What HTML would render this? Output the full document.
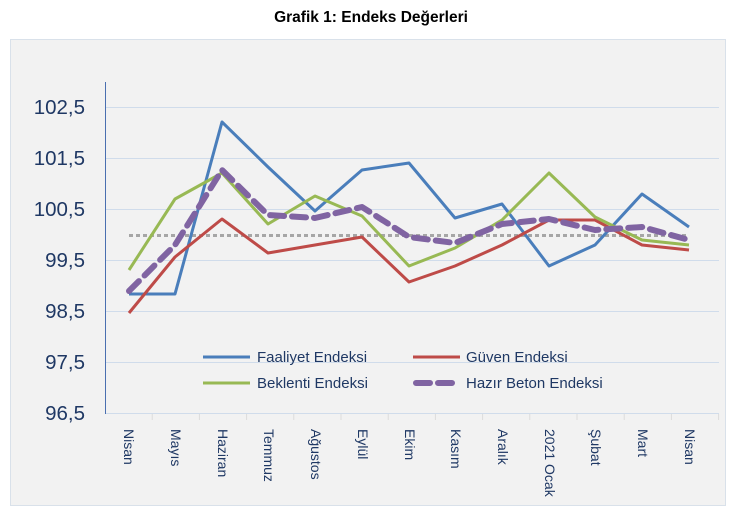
<!DOCTYPE html><html><head><meta charset="utf-8"><style>body{margin:0;background:#fff;}svg{display:block}</style></head><body>
<svg width="742" height="514" xmlns="http://www.w3.org/2000/svg" font-family="Liberation Sans, DejaVu Sans, sans-serif">
<text x="371" y="22" text-anchor="middle" font-weight="bold" font-size="15.5">Grafik 1: Endeks Değerleri</text>
<rect x="10.5" y="39.5" width="715" height="466" fill="#f2f2f2" stroke="#d9e1ea"/>
<g stroke="#d0dceb" stroke-width="1">
<line x1="105" x2="719" y1="107.5" y2="107.5"/><line x1="105" x2="719" y1="158.5" y2="158.5"/><line x1="105" x2="719" y1="209.5" y2="209.5"/><line x1="105" x2="719" y1="260.5" y2="260.5"/><line x1="105" x2="719" y1="311.5" y2="311.5"/><line x1="105" x2="719" y1="362.5" y2="362.5"/><line x1="105" x2="719" y1="413.5" y2="413.5"/>
</g>
<line x1="105.5" x2="105.5" y1="82" y2="414" stroke="#4a6fb0"/>
<g stroke="#dcdcdc"><line x1="152.2" x2="152.2" y1="414" y2="420"/><line x1="199.4" x2="199.4" y1="414" y2="420"/><line x1="246.6" x2="246.6" y1="414" y2="420"/><line x1="293.8" x2="293.8" y1="414" y2="420"/><line x1="341" x2="341" y1="414" y2="420"/><line x1="388.2" x2="388.2" y1="414" y2="420"/><line x1="435.4" x2="435.4" y1="414" y2="420"/><line x1="482.6" x2="482.6" y1="414" y2="420"/><line x1="529.8" x2="529.8" y1="414" y2="420"/><line x1="577" x2="577" y1="414" y2="420"/><line x1="624.2" x2="624.2" y1="414" y2="420"/><line x1="671.4" x2="671.4" y1="414" y2="420"/><line x1="718.6" x2="718.6" y1="414" y2="420"/></g>
<g font-size="20.5" fill="#1f3864" text-anchor="end">
<text x="85" y="114">102,5</text><text x="85" y="165">101,5</text><text x="85" y="216">100,5</text><text x="85" y="267">99,5</text><text x="85" y="318">98,5</text><text x="85" y="369">97,5</text><text x="85" y="420">96,5</text>
</g>
<g font-size="14" fill="#1f3864">
<text transform="translate(124,429) rotate(90)">Nisan</text>
<text transform="translate(171,429) rotate(90)">Mayıs</text>
<text transform="translate(218,429) rotate(90)">Haziran</text>
<text transform="translate(264,429) rotate(90)">Temmuz</text>
<text transform="translate(311,429) rotate(90)">Ağustos</text>
<text transform="translate(358,429) rotate(90)">Eylül</text>
<text transform="translate(405,429) rotate(90)">Ekim</text>
<text transform="translate(451,429) rotate(90)">Kasım</text>
<text transform="translate(498,429) rotate(90)">Aralık</text>
<text transform="translate(545,429) rotate(90)">2021 Ocak</text>
<text transform="translate(591,429) rotate(90)">Şubat</text>
<text transform="translate(638,429) rotate(90)">Mart</text>
<text transform="translate(685,429) rotate(90)">Nisan</text>
</g>
<line x1="129" x2="689" y1="235.5" y2="235.5" stroke="#a6a6a6" stroke-width="3" stroke-dasharray="4,3"/>
<g fill="none" stroke-width="3" stroke-linejoin="round">
<polyline stroke="#4a7ebb" points="129,294 175,294 222,122 268,167 315,211 362,170 409,163 455,218 502,204 549,266 595,245 642,194 689,227"/>
<polyline stroke="#be4b48" points="129,313 175,257 222,219 268,253 315,245 362,237 409,282 455,266 502,245 549,220 595,220 642,245 689,250"/>
<polyline stroke="#98b954" points="129,270 175,199 222,173 268,224 315,196 362,216 409,266 455,248 502,220 549,173 595,217 642,240 689,245"/>
<polyline stroke="#8064a2" stroke-width="6" stroke-linecap="round" stroke-dasharray="14,8" points="129,291 175,245 222,170 268,215 315,218 362,207 409,237 455,243 502,224 549,219 595,230 642,227 689,240"/>
</g>
<line x1="203" x2="250" y1="357" y2="357" stroke="#4a7ebb" stroke-width="3"/>
<line x1="413" x2="460" y1="357" y2="357" stroke="#be4b48" stroke-width="3"/>
<line x1="203" x2="250" y1="383" y2="383" stroke="#98b954" stroke-width="3"/>
<line x1="416" x2="457" y1="383" y2="383" stroke="#8064a2" stroke-width="6" stroke-linecap="round" stroke-dasharray="14,8"/>
<g font-size="15" fill="#1f3864">
<text x="257" y="362">Faaliyet Endeksi</text><text x="466" y="362">Güven Endeksi</text>
<text x="257" y="388">Beklenti Endeksi</text><text x="466" y="388">Hazır Beton Endeksi</text>
</g>
</svg>
</body></html>
